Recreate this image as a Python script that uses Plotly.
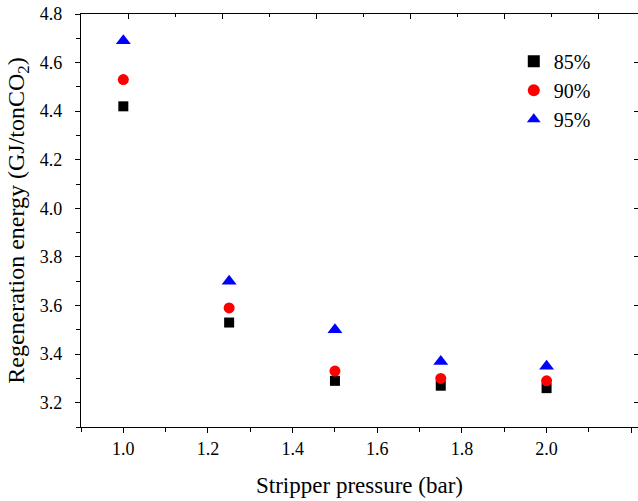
import plotly.graph_objects as go

pressure = [1.0, 1.25, 1.5, 1.75, 2.0]
e85 = [4.42, 3.53, 3.29, 3.27, 3.26]
e90 = [4.53, 3.59, 3.33, 3.30, 3.29]
e95 = [4.69, 3.70, 3.50, 3.37, 3.35]
series_names = ["85%", "90%", "95%"]

FONT = "Liberation Serif, Times New Roman, serif"

fig = go.Figure()
fig.add_trace(go.Scatter(x=pressure, y=e85, mode="markers", name=series_names[0],
                         marker=dict(symbol="square", size=10, color="black")))
fig.add_trace(go.Scatter(x=pressure, y=e90, mode="markers", name=series_names[1],
                         marker=dict(symbol="circle", size=11, color="#ff0000")))
fig.add_trace(go.Scatter(x=pressure, y=e95, mode="markers", name=series_names[2],
                         marker=dict(symbol="triangle-up", size=13, color="#0000ff")))
# empty trace to anchor mirror axes (top / right)
fig.add_trace(go.Scatter(x=[None], y=[None], xaxis="x2", yaxis="y2", showlegend=False,
                         hoverinfo="skip"))

fig.update_layout(
    width=638, height=501,
    margin=dict(l=81, r=0, t=14, b=74),
    paper_bgcolor="white", plot_bgcolor="white",
    font=dict(family=FONT, color="black", size=16),
    showlegend=True,
    legend=dict(x=0.777, y=0.933, xanchor="left", yanchor="top",
                font=dict(family=FONT, size=20, color="black"),
                bgcolor="rgba(0,0,0,0)", itemsizing="constant"),
    xaxis=dict(range=[0.9, 2.216], tick0=1.0, dtick=0.2, tickformat=".1f",
               ticks="outside", ticklen=5, tickcolor="black", tickwidth=1,
               minor=dict(dtick=0.1, ticks="outside", ticklen=4, tickcolor="black"),
               showline=True, linecolor="black", linewidth=1.3, showgrid=False,
               zeroline=False, tickfont=dict(size=18, family=FONT), automargin=False,
               title=dict(text="Stripper pressure (bar)", font=dict(size=23, family=FONT), standoff=19)),
    yaxis=dict(range=[3.1, 4.8], tick0=3.2, dtick=0.2, tickformat=".1f",
               ticks="outside", ticklen=5, tickcolor="black", tickwidth=1,
               minor=dict(dtick=0.1, ticks="outside", ticklen=4, tickcolor="black"),
               showline=True, linecolor="black", linewidth=1.3, showgrid=False,
               zeroline=False, tickfont=dict(size=18, family=FONT), automargin=False,
               ticklabelstandoff=9,
               title=dict(text="Regeneration energy (GJ/tonCO<sub>2</sub>)",
                          font=dict(size=24, family=FONT), standoff=8)),
    xaxis2=dict(overlaying="x", side="top", range=[0.9, 2.085], tick0=1.0, dtick=0.2,
                ticks="inside", ticklen=5, tickcolor="black", showticklabels=False,
                minor=dict(dtick=0.1, ticks="inside", ticklen=3, tickcolor="black"),
                showline=True, linecolor="black", linewidth=1.3, showgrid=False,
                zeroline=False, automargin=False),
    yaxis2=dict(overlaying="y", side="right", range=[3.1, 4.8], tick0=3.2, dtick=0.2,
                ticks="inside", ticklen=4, tickcolor="black", showticklabels=False,
                showline=True, linecolor="black", linewidth=1.3, showgrid=False,
                zeroline=False, automargin=False),
)

fig.write_html("out.html", config={"displayModeBar": False},
               post_script="document.body.style.margin='0px';document.body.style.overflow='hidden';")
